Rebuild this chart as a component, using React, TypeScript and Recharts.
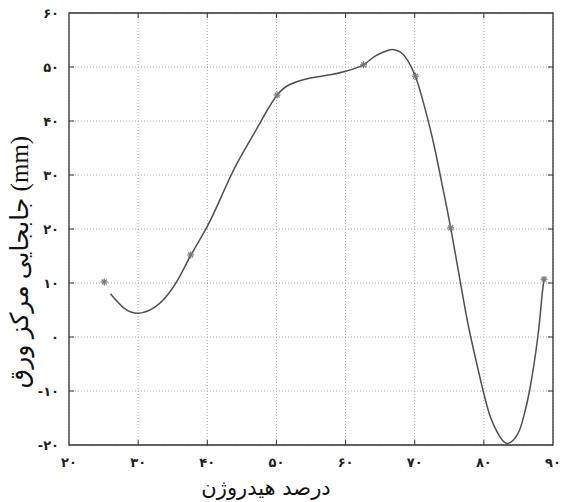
import React from 'react';
import {
  ComposedChart,
  Line,
  Scatter,
  XAxis,
  YAxis,
  CartesianGrid,
  ReferenceArea,
} from 'recharts';

// measured points (asterisks)
const pointX = [25.1, 37.6, 50.1, 62.6, 70.1, 75.2, 88.7];
const pointY = [10.2, 15.2, 44.8, 50.4, 48.3, 20.2, 10.7];

// fitted curve
const curveX = [
  26, 28, 30, 32, 34, 36, 37.6, 40, 42, 44, 46, 48, 50.1, 52, 54, 56, 58, 60, 62.6, 64, 66, 67,
  68, 69, 70.1, 71, 72, 73, 74, 75.2, 77.05, 78.1, 79.9, 81, 82, 83.4, 84.96, 85.7, 86.6, 87.8,
  88.35, 88.7,
];
const curveY = [
  8.0, 5.3, 4.4, 5.2, 7.4, 11.2, 15.1, 20.5, 25.9, 31.4, 36.0, 40.5, 44.8, 46.8, 47.7, 48.2, 48.6,
  49.2, 50.4, 51.8, 53.0, 53.2, 52.7, 51.2, 48.3, 44.6, 39.8, 34.3, 28.0, 20.2, 6.9, 0, -10.0,
  -15.0, -17.8, -19.7, -17.8, -15.0, -10.0, 0, 6.9, 10.7,
];

const xTicks = [20, 30, 40, 50, 60, 70, 80, 90];
const yTicks = [-20, -10, 0, 10, 20, 30, 40, 50, 60];

const curve = curveX.map((x, i) => ({ x, y: curveY[i] }));
const points = pointX.map((x, i) => ({ x, y: pointY[i] }));

const PLOT_W = 484;
const PLOT_H = 432;
const FONT = '"DejaVu Sans", sans-serif';

const faDigits = '۰۱۲۳۴۵۶۷۸۹';
const toFa = (n: number) => String(n).replace(/\d/g, (d) => faDigits[Number(d)]);

function YTick(props: any) {
  const { x, y, payload } = props;
  const v = payload.value;
  const edge = v === 60 || v === -20;
  return (
    <g>
      <text
        x={x - 10}
        y={y}
        dy={5}
        textAnchor="end"
        fontFamily={FONT}
        fontSize={13}
        fontWeight="bold"
        fill="#222"
      >
        {toFa(v)}
      </text>
      {!edge && (
        <>
          <line x1={x} x2={x + 5} y1={y} y2={y} stroke="#333" />
          <line x1={x + PLOT_W - 5} x2={x + PLOT_W} y1={y} y2={y} stroke="#333" />
        </>
      )}
    </g>
  );
}

function XTick(props: any) {
  const { x, y, payload } = props;
  const v = payload.value;
  const edge = v === 20 || v === 90;
  return (
    <g>
      <text
        x={x}
        y={y}
        dy={22}
        textAnchor="middle"
        fontFamily={FONT}
        fontSize={13}
        fontWeight="bold"
        fill="#222"
      >
        {toFa(v)}
      </text>
      {!edge && (
        <>
          <line x1={x} x2={x} y1={y} y2={y - 5} stroke="#333" />
          <line x1={x} x2={x} y1={y - PLOT_H} y2={y - PLOT_H + 5} stroke="#333" />
        </>
      )}
    </g>
  );
}

function Asterisk(props: any) {
  const { cx, cy } = props;
  const r = 3.5;
  const d = r * 0.7;
  return (
    <g stroke="#777" strokeWidth={1.2}>
      <line x1={cx - r} x2={cx + r} y1={cy} y2={cy} />
      <line x1={cx} x2={cx} y1={cy - r} y2={cy + r} />
      <line x1={cx - d} x2={cx + d} y1={cy - d} y2={cy + d} />
      <line x1={cx - d} x2={cx + d} y1={cy + d} y2={cy - d} />
    </g>
  );
}

export default function App() {
  return (
    <div style={{ position: 'absolute', left: 0, top: 0, width: 561, height: 502, background: '#fff' }}>
      <ComposedChart
        width={561}
        height={502}
        data={curve}
        margin={{ top: 13, right: 8, left: 0, bottom: 0 }}
      >
        <CartesianGrid stroke="#aaa" strokeDasharray="1 2" />
        <XAxis
          type="number"
          dataKey="x"
          domain={[20, 90]}
          ticks={xTicks}
          height={57}
          tickSize={0}
          tickMargin={0}
          axisLine={false}
          tickLine={false}
          tick={<XTick />}
          allowDataOverflow
        />
        <YAxis
          type="number"
          dataKey="y"
          domain={[-20, 60]}
          ticks={yTicks}
          width={69}
          tickSize={0}
          tickMargin={0}
          axisLine={false}
          tickLine={false}
          tick={<YTick />}
          allowDataOverflow
        />
        <ReferenceArea x1={20} x2={90} y1={-20} y2={60} fill="none" stroke="#333" strokeWidth={1.3} />
        <Line
          type="natural"
          dataKey="y"
          stroke="#505050"
          strokeWidth={1.5}
          dot={false}
          isAnimationActive={false}
        />
        <Scatter data={points} dataKey="y" shape={<Asterisk />} isAnimationActive={false} />
      </ComposedChart>
      <div
        style={{
          position: 'absolute',
          left: 19,
          top: 262,
          transform: 'translate(-50%, -50%) rotate(-90deg)',
          whiteSpace: 'nowrap',
          fontFamily: '"Liberation Serif", "DejaVu Sans", serif',
          fontSize: 25,
          color: '#111',
          direction: 'ltr',
        }}
      >
        جابجایی مرکز ورق (mm)
      </div>
      <div
        style={{
          position: 'absolute',
          left: 266,
          top: 488,
          transform: 'translate(-50%, -50%)',
          whiteSpace: 'nowrap',
          fontFamily: FONT,
          fontSize: 21,
          color: '#111',
          direction: 'rtl',
        }}
      >
        درصد هیدروژن
      </div>
    </div>
  );
}
